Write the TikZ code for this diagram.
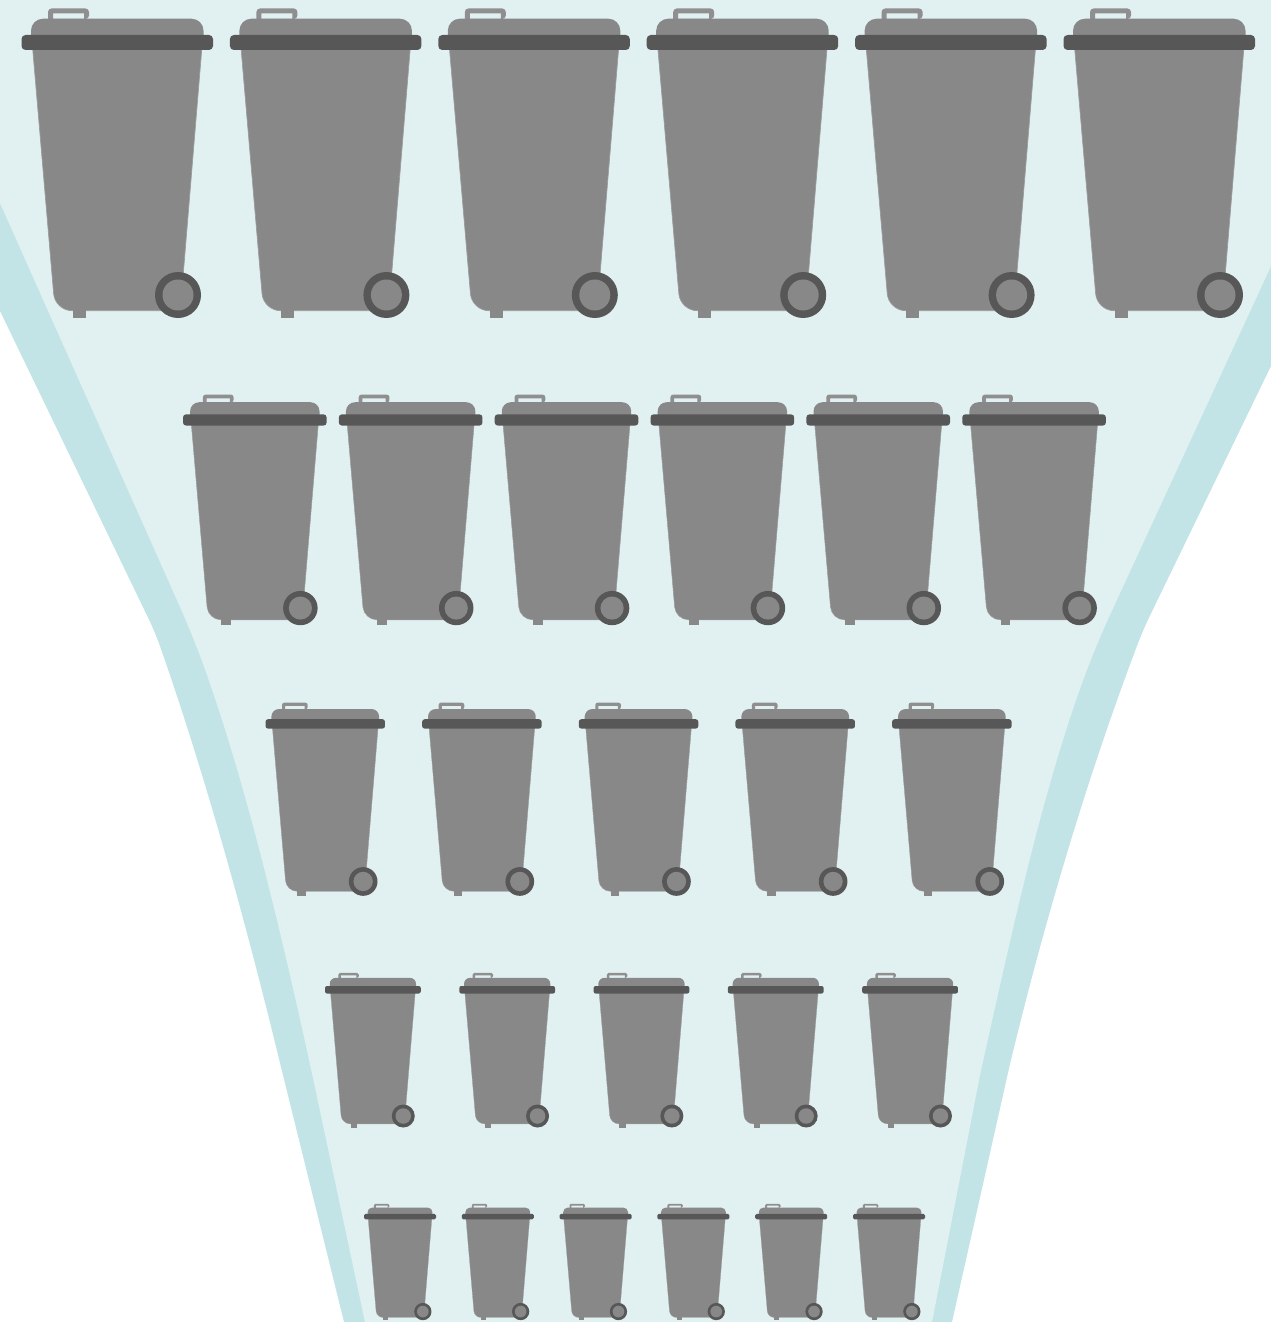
\documentclass[tikz,border=0pt]{standalone}
\definecolor{funnelband}{HTML}{C3E4E6}
\definecolor{funnelfill}{HTML}{E1F1F2}
\definecolor{binbody}{HTML}{888888}
\definecolor{binedge}{HTML}{9C9C9C}
\definecolor{binhandle}{HTML}{8F8F8F}
\definecolor{bindark}{HTML}{575757}

% one bin: left end of the bar, top of the handle, width scale, height scale
\newcommand{\trashbin}[4]{%
  \pgfmathsetlengthmacro{\rLid}{12pt*#3}
  \pgfmathsetlengthmacro{\rFoot}{17pt*#3}
  \pgfmathsetlengthmacro{\rBar}{4pt*#3}
  \pgfmathsetlengthmacro{\rGrip}{3.5pt*#3}
  \pgfmathsetlengthmacro{\wEdge}{0.7pt*#3}
  \begin{scope}[shift={(#1,#2)}, xscale=#3, yscale=#4]
    \fill[binhandle, even odd rule] [rounded corners=\rGrip] (26.5,10) |- (67.5,-0.5) -- (67.5,10) [sharp corners] -- cycle
      (31.5,10) -- (31.5,4.5) -- (62.5,4.5) -- (62.5,10) -- cycle;
    \draw[binedge, line width=\wEdge, fill=binbody] (11.3,30) -- (11.3,41) [rounded corners=\rFoot] -- (33.6,301.7) [sharp corners] -- (158,301.7) -- (160,286) -- (180.2,41) -- (180.2,30) -- cycle;
    \fill[binbody] [rounded corners=\rLid] (9.5,27) -- (9.5,9.7) -- (182,9.7) [sharp corners] -- (182,27) -- cycle;
    \fill[binbody] (51.2,300) rectangle (64.2,309);
    \fill[bindark, rounded corners=\rBar] (0,26) rectangle (191.5,41);
    \fill[bindark] (156.5,286) circle (23);
    \fill[binbody] (156.5,286) circle (15.5);
  \end{scope}
}

\begin{document}
\begin{tikzpicture}[x=1pt, y=-1pt]
  \useasboundingbox (0,0) rectangle (1271,1322);

  % outer edge of the funnel
  \fill[funnelband] (0,0) -- (0,311) [rounded corners=14pt] -- (155,632) [sharp corners]
    .. controls (205,774) and (246,923) .. (280,1063) -- (344,1322)
    -- (952,1322) -- (1010,1064) [rounded corners=14pt]
    .. controls (1045,919) and (1088,775) .. (1143,630) [sharp corners] -- (1271,366) -- (1271,0) -- cycle;
  % inner part
  \fill[funnelfill] (0,0) -- (0,203) [rounded corners=30pt] -- (193,636) [sharp corners]
    .. controls (246,783) and (281,931) .. (313,1078) -- (365,1322)
    -- (932,1322) -- (980,1075) [rounded corners=30pt]
    .. controls (1012,931) and (1043,787) .. (1097,643) [sharp corners] -- (1271,266) -- (1271,0) -- cycle;

  \foreach \xa/\ya/\dx/\s/\t/\n in {21.5/9/208.4/1/1/6, 183/395/155.85/0.75/0.745/6, 265.5/703/156.65/0.624/0.624/5, 325/973/134.3/0.5/0.5/5, 364/1204/97.8/0.376/0.376/6} {
    \foreach \i in {1,...,\n} {
      \pgfmathsetmacro{\xb}{\xa+(\i-1)*\dx}
      \trashbin{\xb}{\ya}{\s}{\t}
    }
  }
\end{tikzpicture}
\end{document}
